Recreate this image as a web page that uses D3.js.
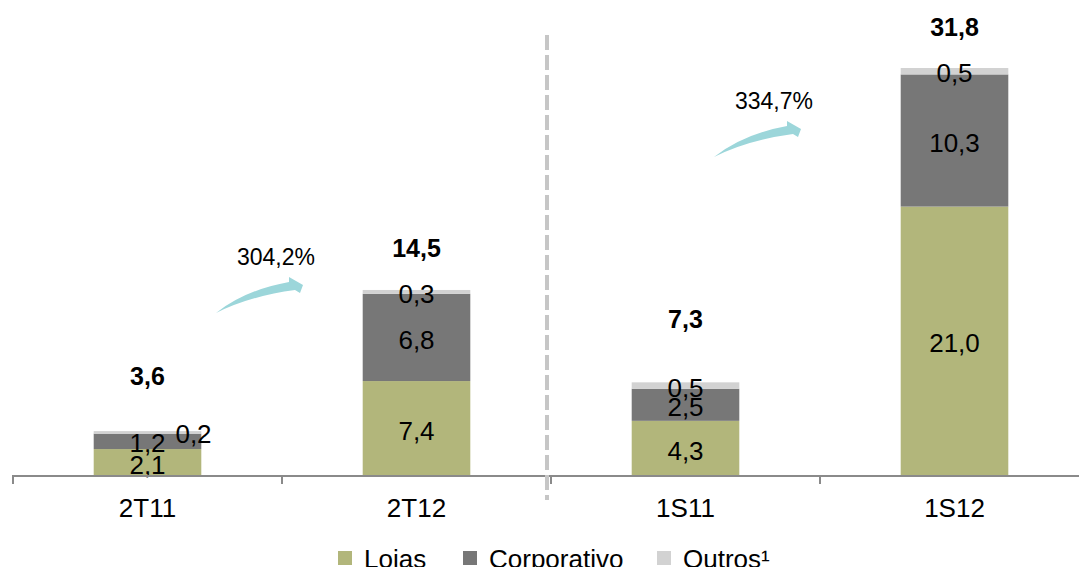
<!DOCTYPE html>
<html><head><meta charset="utf-8">
<script src="https://cdn.jsdelivr.net/npm/d3@7"></script>
<style>body{margin:0;background:#fff}svg{display:block}text{font-family:"Liberation Sans",Arial,sans-serif}</style>
</head><body><svg id="c" width="1079" height="567"></svg>
<script>
const categories = ["2T11", "2T12", "1S11", "1S12"];
const lojas = [2.1, 7.4, 4.3, 21.0];
const corporativo = [1.2, 6.8, 2.5, 10.3];
const outros = [0.2, 0.3, 0.5, 0.5];
const totals = ["3,6", "14,5", "7,3", "31,8"];
const seriesNames = ["Lojas", "Corporativo", "Outros¹"];
const growthLabels = ["304,2%", "334,7%"];

const colors = ["#b2b67b", "#777777", "#d2d2d2"];
const svg = d3.select("#c");
const x = d3.scaleBand().domain(categories).range([13, 1089]).padding(0);
const y = d3.scaleLinear().domain([0, 35]).range([476, 476 - 35 * 12.83]);
const barW = x.bandwidth() * 0.4;
const fmt = v => d3.format(".1f")(v).replace(".", ",");

const rows = categories.map((c, i) => ({cat: c, Lojas: lojas[i], Corporativo: corporativo[i], Outros: outros[i]}));
const stack = d3.stack().keys(["Lojas", "Corporativo", "Outros"])(rows);

// bars
stack.forEach((layer, li) => {
  svg.append("g").selectAll("rect").data(layer).join("rect")
    .attr("x", d => x(d.data.cat) + (x.bandwidth() - barW) / 2)
    .attr("width", barW)
    .attr("y", d => y(d[1]))
    .attr("height", d => y(d[0]) - y(d[1]))
    .attr("fill", colors[li]);
});

// segment labels
const labelDx = {"2T11-2": 46};
stack.forEach((layer, li) => {
  svg.append("g").selectAll("text").data(layer).join("text")
    .attr("x", d => x(d.data.cat) + x.bandwidth() / 2 + (labelDx[d.data.cat + "-" + li] || 0))
    .attr("y", d => (y(d[0]) + y(d[1])) / 2 + 2)
    .attr("dy", "0.35em")
    .attr("text-anchor", "middle")
    .attr("font-size", 26)
    .attr("fill", "#000")
    .text(d => fmt(d[1] - d[0]));
});

// totals
const totalGap = [46, 33, 54, 32];
svg.append("g").selectAll("text").data(categories).join("text")
  .attr("x", c => x(c) + x.bandwidth() / 2)
  .attr("y", (c, i) => y(lojas[i] + corporativo[i] + outros[i]) - totalGap[i])
  .attr("text-anchor", "middle")
  .attr("font-size", 25)
  .attr("font-weight", "bold")
  .text((c, i) => totals[i]);

// axis
const axis = svg.append("g");
axis.append("line").attr("x1", 12).attr("x2", 1079).attr("y1", 476).attr("y2", 476)
  .attr("stroke", "#8a8a8a").attr("stroke-width", 2);
axis.selectAll("line.t").data(categories).join("line").attr("class", "t")
  .attr("x1", c => x(c)).attr("x2", c => x(c)).attr("y1", 476).attr("y2", 484)
  .attr("stroke", "#8a8a8a").attr("stroke-width", 2);
axis.selectAll("text").data(categories).join("text")
  .attr("x", c => x(c) + x.bandwidth() / 2).attr("y", 517)
  .attr("text-anchor", "middle").attr("font-size", 26).text(c => c);

// dashed separator
svg.append("line").attr("x1", 547).attr("x2", 547).attr("y1", 35).attr("y2", 500)
  .attr("stroke", "#c6c6c6").attr("stroke-width", 4).attr("stroke-dasharray", "15,5");

// growth arrows
const arrowTails = [[216, 313], [714, 157]];
const arrowPath = "M0,0 Q29,-23 73,-31 L73,-36 L87,-28 L84,-20 L79,-23 Q34,-17 0,0 Z";
arrowTails.forEach((t, i) => {
  const g = svg.append("g").attr("transform", `translate(${t[0]},${t[1]})`);
  g.append("path").attr("d", arrowPath).attr("fill", "#9cd6da");
  g.append("text").attr("x", 60).attr("y", -48).attr("text-anchor", "middle")
    .attr("font-size", 23).text(growthLabels[i]);
});

// legend
const legX = [338, 463, 657];
const leg = svg.append("g");
seriesNames.forEach((n, i) => {
  leg.append("rect").attr("x", legX[i]).attr("y", 551).attr("width", 14).attr("height", 14).attr("fill", colors[i]);
  leg.append("text").attr("x", legX[i] + 26).attr("y", 568).attr("font-size", 26).text(n);
});
</script></body></html>
